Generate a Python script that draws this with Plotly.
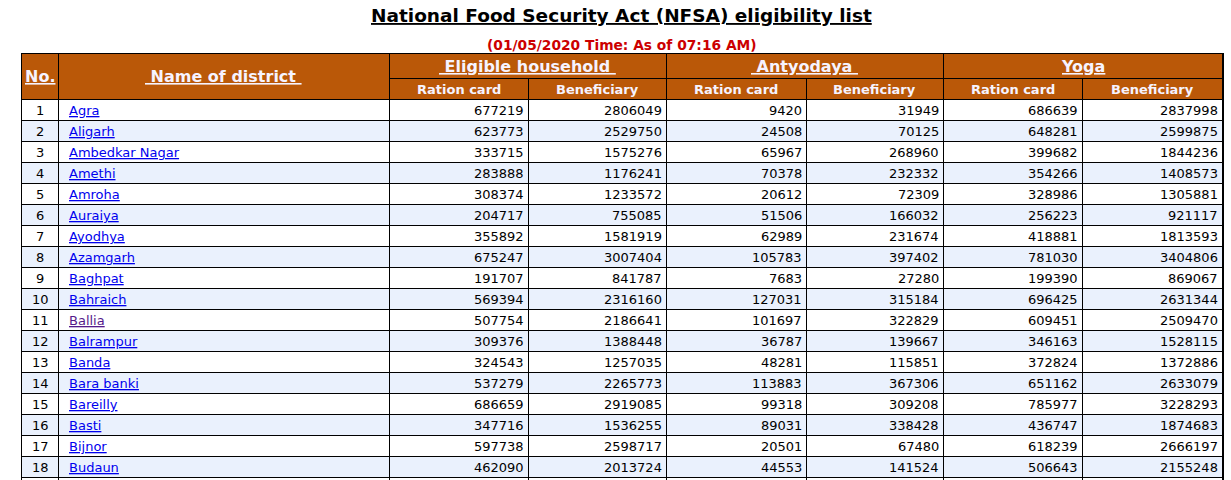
import plotly.graph_objects as go

# ---------------- data ----------------
title_text = "National Food Security Act (NFSA) eligibility list"
date_text = "(01/05/2020 Time: As of 07:16 AM)"
group_headers = ["\u00a0Eligible household\u00a0", "\u00a0Antyodaya\u00a0", "Yoga"]
sub_headers = ["Ration card", "Beneficiary"] * 3
no_header = "No."
name_header = "\u00a0Name of district\u00a0"

row_no = list(range(1, 19))
districts = ["Agra", "Aligarh", "Ambedkar Nagar", "Amethi", "Amroha", "Auraiya",
             "Ayodhya", "Azamgarh", "Baghpat", "Bahraich", "Ballia", "Balrampur",
             "Banda", "Bara banki", "Bareilly", "Basti", "Bijnor", "Budaun"]
visited = ["Ballia"]
eligible_ration = [677219, 623773, 333715, 283888, 308374, 204717, 355892, 675247, 191707,
                   569394, 507754, 309376, 324543, 537279, 686659, 347716, 597738, 462090]
eligible_benef = [2806049, 2529750, 1575276, 1176241, 1233572, 755085, 1581919, 3007404, 841787,
                  2316160, 2186641, 1388448, 1257035, 2265773, 2919085, 1536255, 2598717, 2013724]
antyodaya_ration = [9420, 24508, 65967, 70378, 20612, 51506, 62989, 105783, 7683,
                    127031, 101697, 36787, 48281, 113883, 99318, 89031, 20501, 44553]
antyodaya_benef = [31949, 70125, 268960, 232332, 72309, 166032, 231674, 397402, 27280,
                   315184, 322829, 139667, 115851, 367306, 309208, 338428, 67480, 141524]
yoga_ration = [686639, 648281, 399682, 354266, 328986, 256223, 418881, 781030, 199390,
               696425, 609451, 346163, 372824, 651162, 785977, 436747, 618239, 506643]
yoga_benef = [2837998, 2599875, 1844236, 1408573, 1305881, 921117, 1813593, 3404806, 869067,
              2631344, 2509470, 1528115, 1372886, 2633079, 3228293, 1874683, 2666197, 2155248]

value_cols = [eligible_ration, eligible_benef, antyodaya_ration, antyodaya_benef,
              yoga_ration, yoga_benef]

# ---------------- layout constants ----------------
W, H = 1231, 480
col_edges = [21, 58, 389, 528, 666, 806, 943, 1082, 1222]
head_top, head_mid, head_bot = 53, 78, 99
row_h = 21
HEAD_FILL = "#BA5808"
HEAD_TXT = "#F6F3FF"
ALT_FILL = "#EAF1FD"
LINK = "#0000EE"
VISITED = "#551A8B"
FONT = "DejaVu Sans"

fig = go.Figure()
shapes = []
ann = []

def rect(x0, y0, x1, y1, fill):
    shapes.append(dict(type="rect", xref="x", yref="y", x0=x0, y0=y0, x1=x1, y1=y1,
                       fillcolor=fill, line=dict(width=0), layer="below"))

def line(x0, y0, x1, y1, w=1):
    shapes.append(dict(type="line", xref="x", yref="y", x0=x0, y0=y0, x1=x1, y1=y1,
                       line=dict(color="#000000", width=w), layer="above"))

def text(x, y, s, size, color, bold=False, anchor="center", under=False):
    ann.append(dict(x=x, y=y, xref="x", yref="y", text=s, showarrow=False,
                    xanchor=anchor, yanchor="middle", borderpad=0, borderwidth=0,
                    font=dict(family=FONT, size=size, color=color,
                              weight="bold" if bold else "normal",
                              lineposition="under" if under else "none")))

left, right = col_edges[0], col_edges[-1]
n = len(districts)
table_bottom = H + 5

# header fill
rect(left, head_top, right, head_bot, HEAD_FILL)
# row fills
for i in range(n + 1):
    y0 = head_bot + i * row_h
    if (i + 1) % 2 == 0:
        rect(left, y0, right, y0 + row_h, ALT_FILL)

# horizontal lines
line(left, head_top + 0.5, right + 1, head_top + 0.5)
line(col_edges[2], head_mid + 0.5, right, head_mid + 0.5)
for i in range(n + 1):
    y = head_bot + i * row_h + 0.5
    line(left, y, right, y)
# vertical lines
for k, x in enumerate(col_edges):
    top = head_mid if k in (3, 5, 7) else head_top
    xw = 2 if k == len(col_edges) - 1 else 1
    line(x + 0.5 + (0.5 if xw == 2 else 0), top, x + 0.5 + (0.5 if xw == 2 else 0), table_bottom, xw)

# title & date
mid = (left + right) / 2
text(mid, 15, "<b>" + title_text + "</b>", 18.5, "#000000", bold=True, under=True)
text(mid, 45, "<b>" + date_text + "</b>", 13.8, "#CC0000", bold=True)

# header texts
text((col_edges[0] + col_edges[1]) / 2, (head_top + head_bot) / 2, no_header, 16, HEAD_TXT, True, under=True)
text((col_edges[1] + col_edges[2]) / 2, (head_top + head_bot) / 2, name_header, 16, HEAD_TXT, True, under=True)
for g, gh in enumerate(group_headers):
    xa, xb = col_edges[2 + 2 * g], col_edges[4 + 2 * g]
    text((xa + xb) / 2, (head_top + head_mid) / 2 + 0.5, gh, 16, HEAD_TXT, True, under=True)
for s, sh in enumerate(sub_headers):
    xa, xb = col_edges[2 + s], col_edges[3 + s]
    text((xa + xb) / 2, (head_mid + head_bot) / 2 + 0.5, sh, 13, HEAD_TXT, True)

# body
for i in range(n):
    yc = head_bot + i * row_h + row_h / 2 + 0.5
    text((col_edges[0] + col_edges[1]) / 2 + 0.5, yc, str(row_no[i]), 13, "#000000")
    col = VISITED if districts[i] in visited else LINK
    text(col_edges[1] + 11, yc, districts[i], 13, col, anchor="left", under=True)
    for c, vals in enumerate(value_cols):
        text(col_edges[3 + c] - 4, yc, str(vals[i]), 13, "#000000", anchor="right")

fig.update_layout(
    width=W, height=H, margin=dict(l=0, r=0, t=0, b=0),
    paper_bgcolor="white", plot_bgcolor="white",
    xaxis=dict(range=[0, W], visible=False, fixedrange=True),
    yaxis=dict(range=[H, 0], visible=False, fixedrange=True),
    shapes=shapes, annotations=ann, showlegend=False,
)

fig.write_html("out.html", post_script="document.body.style.margin='0';document.body.style.overflow='hidden';",
               config={"displayModeBar": False})
